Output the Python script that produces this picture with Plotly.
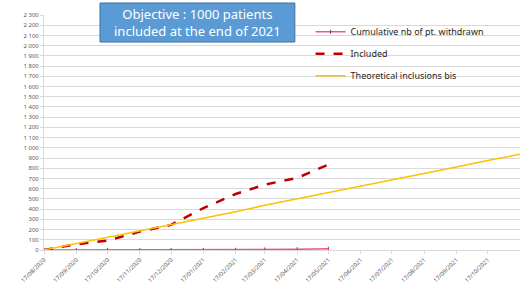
import plotly.graph_objects as go

dates = ["2020-08-17", "2020-09-17", "2020-10-17", "2020-11-17", "2020-12-17",
         "2021-01-17", "2021-02-17", "2021-03-17", "2021-04-17", "2021-05-17",
         "2021-06-17", "2021-07-17", "2021-08-17", "2021-09-17", "2021-10-17",
         "2021-11-17"]
tick_labels = ["17/08/2020", "17/09/2020", "17/10/2020", "17/11/2020", "17/12/2020",
               "17/01/2021", "17/02/2021", "17/03/2021", "17/04/2021", "17/05/2021",
               "17/06/2021", "17/07/2021", "17/08/2021", "17/09/2021", "17/10/2021",
               "17/11/2021"]

withdrawn_dates = dates[:10]
withdrawn = [0, 0, 0, 0, 0, 0, 1, 5, 7, 12]

included_dates = dates[:10]
included = [0, 56, 92, 180, 246, 410, 548, 640, 705, 836]

theoretical = [0, 62, 125, 188, 250, 312, 375, 438, 500, 562,
               625, 688, 750, 812, 875, 938]

fig = go.Figure()
fig.add_trace(go.Scatter(x=withdrawn_dates, y=withdrawn, mode="lines+markers",
                         name="Cumulative nb of pt. withdrawn", legendgroup="a",
                         line=dict(color="#E8559A", width=1.5),
                         marker=dict(symbol="line-ns-open", size=3, color="#B0306A",
                                     line=dict(width=1, color="#B0306A"))))
fig.add_trace(go.Scatter(x=included_dates, y=included, mode="lines",
                         name="Included", legendgroup="b",
                         line=dict(color="#C00000", width=2.5, dash="dash")))
fig.add_trace(go.Scatter(x=dates, y=theoretical, mode="lines",
                         name="Theoretical inclusions bis", legendgroup="c",
                         line=dict(color="#FFC000", width=1.5)))

fig.add_shape(type="rect", xref="paper", yref="paper",
              x0=0.1176, x1=0.527, y0=0.885, y1=1.051,
              fillcolor="#5B9BD5", line=dict(color="#41719C", width=1))
fig.add_annotation(xref="paper", yref="paper", x=0.322, y=0.968,
                   text="Objective : 1000 patients<br>included at the end of 2021",
                   showarrow=False, font=dict(family="Noto Sans", size=13, color="white"),
                   xanchor="center", yanchor="middle")

fig.update_layout(
    width=520, height=305,
    margin=dict(l=44, r=0, t=15, b=55),
    paper_bgcolor="white", plot_bgcolor="white",
    separators=". ",
    font=dict(family="Noto Sans", color="#595959"),
    legend=dict(x=0.56, y=0.99, xanchor="left", yanchor="top",
                bgcolor="rgba(0,0,0,0)", font=dict(size=9, color="#262626"),
                itemwidth=30, tracegroupgap=3),
    showlegend=True,
)
fig.update_xaxes(type="date", range=["2020-08-17", "2021-11-17"],
                 tickvals=dates, ticktext=tick_labels, tickangle=-45,
                 tickfont=dict(size=6, color="#595959"),
                 showgrid=False, showline=True, linecolor="#D9D9D9", linewidth=1,
                 ticks="outside", ticklen=3, tickcolor="#D9D9D9")
fig.update_yaxes(range=[0, 2300], dtick=100, tickformat=",d",
                 tickfont=dict(size=6, color="#595959"),
                 showgrid=True, gridcolor="#D9D9D9", gridwidth=1,
                 showline=True, linecolor="#D9D9D9", zeroline=False,
                 ticks="outside", ticklen=3, tickcolor="#D9D9D9")

fig.write_html("out.html", config={"displayModeBar": False},
               post_script="document.body.style.margin='0';document.body.style.overflow='hidden';")
